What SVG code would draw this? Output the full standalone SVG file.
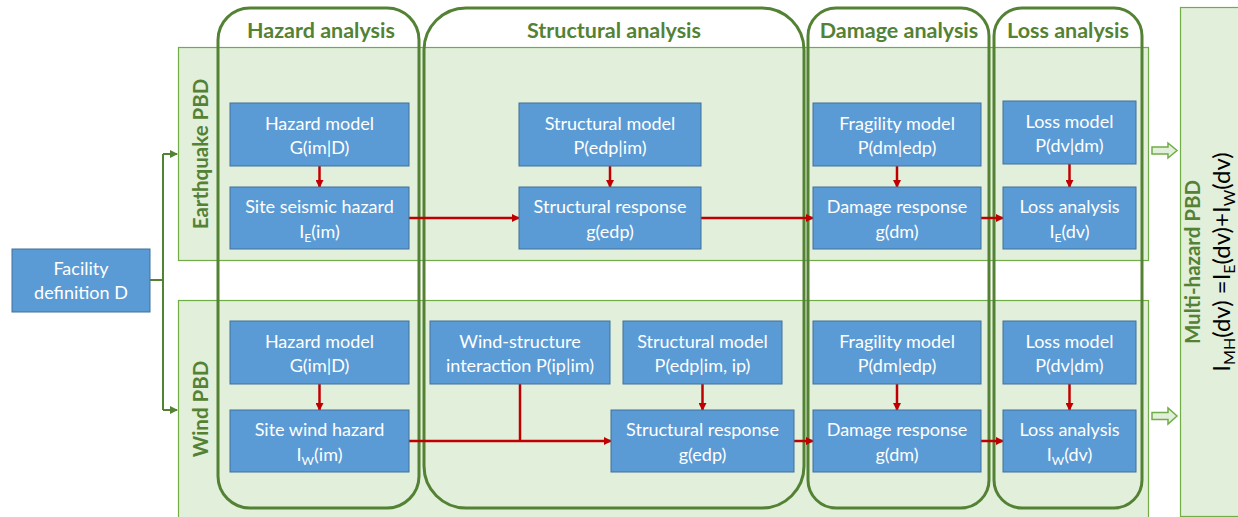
<svg xmlns="http://www.w3.org/2000/svg" width="1238" height="517" viewBox="0 0 1238 517">
<defs>
<style>
.band{fill:#E2EFDA;stroke:#70AD47;stroke-width:1.2}
.col{fill:none;stroke:#548235;stroke-width:3}
.hdr{font-family:Lato,"Liberation Sans",sans-serif;font-weight:bold;font-size:21.5px;fill:#548235;text-anchor:middle}
.vl{font-family:Lato,"Liberation Sans",sans-serif;font-weight:bold;font-size:20.5px;fill:#548235;text-anchor:middle}
.box{fill:#5B9BD5;stroke:#41719C;stroke-width:1}
.t{font-family:Lato,"Liberation Sans",sans-serif;font-size:18px;fill:#FFFFFF;text-anchor:middle}
.red{fill:none;stroke:#C00000;stroke-width:2.5}
.grn{fill:none;stroke:#548235;stroke-width:2}
.blk{fill:#E2EFDA;stroke:#70AD47;stroke-width:1.5}
</style>
<marker id="ar" markerWidth="8" markerHeight="8" refX="7" refY="4" orient="auto" markerUnits="userSpaceOnUse" viewBox="0 0 8 8">
<path d="M0,0 L8,4 L0,8 Z" fill="#C00000"/>
</marker>
<marker id="ag" markerWidth="8" markerHeight="8" refX="7" refY="4" orient="auto" markerUnits="userSpaceOnUse" viewBox="0 0 8 8">
<path d="M0,0 L8,4 L0,8 Z" fill="#548235"/>
</marker>
</defs>

<g id="bands">
<rect id="band-eq" class="band" x="178.5" y="47.5" width="970" height="213"/>
<rect id="band-wind" class="band" x="178.5" y="300.5" width="970" height="220"/>
<rect id="band-mh" class="band" x="1180.5" y="7.5" width="62" height="509"/>
<text class="vl" transform="translate(208,154) rotate(-90)">Earthquake PBD</text>
<text class="vl" transform="translate(208,409) rotate(-90)">Wind PBD</text>
<text class="vl" transform="translate(1200,262) rotate(-90)">Multi-hazard PBD</text>
<text transform="translate(1230,262) rotate(-90)" text-anchor="middle" font-family="Lato,'Liberation Sans',sans-serif" font-size="24" fill="#000">I<tspan font-size="16" dy="5">MH</tspan><tspan dy="-5">(dv) =I</tspan><tspan font-size="16" dy="5">E</tspan><tspan dy="-5">(dv)+I</tspan><tspan font-size="16" dy="5">W</tspan><tspan dy="-5">(dv)</tspan></text>
</g>

<g id="columns">
<rect id="col-hazard" class="col" x="218" y="8" width="201" height="500" rx="32" ry="32"/>
<rect id="col-structural" class="col" x="424" y="8" width="380" height="500" rx="42" ry="42"/>
<rect id="col-damage" class="col" x="808" y="8" width="181" height="500" rx="28" ry="28"/>
<rect id="col-loss" class="col" x="994" y="8" width="148" height="500" rx="28" ry="28"/>
<text class="hdr" x="321" y="38">Hazard analysis</text>
<text class="hdr" x="614" y="38">Structural analysis</text>
<text class="hdr" x="899" y="38">Damage analysis</text>
<text class="hdr" x="1068" y="38">Loss analysis</text>
</g>

<g id="connectors">
<path class="grn" d="M150,280 H163"/>
<path class="grn" d="M163,154 V410"/>
<path class="grn" d="M163,154 H177" marker-end="url(#ag)"/>
<path class="grn" d="M163,410 H177" marker-end="url(#ag)"/>
<path class="red" d="M319.5,166 V187" marker-end="url(#ar)"/>
<path class="red" d="M409,218 H519" marker-end="url(#ar)"/>
<path class="red" d="M610,166 V187" marker-end="url(#ar)"/>
<path class="red" d="M701,218 H813" marker-end="url(#ar)"/>
<path class="red" d="M897,166 V187" marker-end="url(#ar)"/>
<path class="red" d="M981,218 H1003" marker-end="url(#ar)"/>
<path class="red" d="M1069.5,164 V187" marker-end="url(#ar)"/>
<path class="red" d="M319.5,384 V410" marker-end="url(#ar)"/>
<path class="red" d="M409,441 H611" marker-end="url(#ar)"/>
<path class="red" d="M520,384 V441"/>
<path class="red" d="M702.5,384 V410" marker-end="url(#ar)"/>
<path class="red" d="M794,441 H813" marker-end="url(#ar)"/>
<path class="red" d="M897,384 V410" marker-end="url(#ar)"/>
<path class="red" d="M981,441 H1003" marker-end="url(#ar)"/>
<path class="red" d="M1069.5,384 V410" marker-end="url(#ar)"/>
<path class="blk" d="M1152,147 H1168 V143 L1177,150.5 L1168,158 V154 H1152 Z"/>
<path class="blk" d="M1152,412.5 H1168 V408 L1177,416 L1168,424 V419.5 H1152 Z"/>
</g>

<g id="facility">
<rect class="box" x="12" y="249" width="138" height="63"/>
<text class="t" x="81" y="275">Facility</text>
<text class="t" x="81" y="299">definition D</text>
</g>

<g id="eq-hazard-model">
<rect class="box" x="230" y="103" width="179" height="63"/>
<text class="t" x="319.5" y="130">Hazard model</text>
<text class="t" x="319.5" y="154">G(im|D)</text>
</g>
<g id="eq-site-hazard">
<rect class="box" x="230" y="187" width="179" height="62"/>
<text class="t" x="319.5" y="213">Site seismic hazard</text>
<text class="t" x="319.5" y="238">I<tspan font-size="12" dy="4">E</tspan><tspan dy="-4">(im)</tspan></text>
</g>
<g id="eq-structural-model">
<rect class="box" x="519" y="103" width="182" height="63"/>
<text class="t" x="610" y="130">Structural model</text>
<text class="t" x="610" y="154">P(edp|im)</text>
</g>
<g id="eq-structural-response">
<rect class="box" x="519" y="187" width="182" height="62"/>
<text class="t" x="610" y="213">Structural response</text>
<text class="t" x="610" y="238">g(edp)</text>
</g>
<g id="eq-fragility-model">
<rect class="box" x="813" y="103" width="168" height="63"/>
<text class="t" x="897" y="130">Fragility model</text>
<text class="t" x="897" y="154">P(dm|edp)</text>
</g>
<g id="eq-damage-response">
<rect class="box" x="813" y="187" width="168" height="62"/>
<text class="t" x="897" y="213">Damage response</text>
<text class="t" x="897" y="238">g(dm)</text>
</g>
<g id="eq-loss-model">
<rect class="box" x="1003" y="101" width="133" height="63"/>
<text class="t" x="1069.5" y="128">Loss model</text>
<text class="t" x="1069.5" y="152">P(dv|dm)</text>
</g>
<g id="eq-loss-analysis">
<rect class="box" x="1003" y="187" width="133" height="62"/>
<text class="t" x="1069.5" y="213">Loss analysis</text>
<text class="t" x="1069.5" y="238">I<tspan font-size="12" dy="4">E</tspan><tspan dy="-4">(dv)</tspan></text>
</g>

<g id="w-hazard-model">
<rect class="box" x="230" y="321" width="179" height="63"/>
<text class="t" x="319.5" y="348">Hazard model</text>
<text class="t" x="319.5" y="372">G(im|D)</text>
</g>
<g id="w-site-hazard">
<rect class="box" x="230" y="410" width="179" height="62"/>
<text class="t" x="319.5" y="436">Site wind hazard</text>
<text class="t" x="319.5" y="461">I<tspan font-size="12" dy="4">W</tspan><tspan dy="-4">(im)</tspan></text>
</g>
<g id="w-interaction">
<rect class="box" x="430" y="321" width="180" height="63"/>
<text class="t" x="520" y="348">Wind-structure</text>
<text class="t" x="520" y="372">interaction P(ip|im)</text>
</g>
<g id="w-structural-model">
<rect class="box" x="623" y="321" width="159" height="63"/>
<text class="t" x="702.5" y="348">Structural model</text>
<text class="t" x="702.5" y="372">P(edp|im, ip)</text>
</g>
<g id="w-structural-response">
<rect class="box" x="611" y="410" width="183" height="62"/>
<text class="t" x="702.5" y="436">Structural response</text>
<text class="t" x="702.5" y="461">g(edp)</text>
</g>
<g id="w-fragility-model">
<rect class="box" x="813" y="321" width="168" height="63"/>
<text class="t" x="897" y="348">Fragility model</text>
<text class="t" x="897" y="372">P(dm|edp)</text>
</g>
<g id="w-damage-response">
<rect class="box" x="813" y="410" width="168" height="62"/>
<text class="t" x="897" y="436">Damage response</text>
<text class="t" x="897" y="461">g(dm)</text>
</g>
<g id="w-loss-model">
<rect class="box" x="1003" y="321" width="133" height="63"/>
<text class="t" x="1069.5" y="348">Loss model</text>
<text class="t" x="1069.5" y="372">P(dv|dm)</text>
</g>
<g id="w-loss-analysis">
<rect class="box" x="1003" y="410" width="133" height="62"/>
<text class="t" x="1069.5" y="436">Loss analysis</text>
<text class="t" x="1069.5" y="461">I<tspan font-size="12" dy="4">W</tspan><tspan dy="-4">(dv)</tspan></text>
</g>
</svg>
